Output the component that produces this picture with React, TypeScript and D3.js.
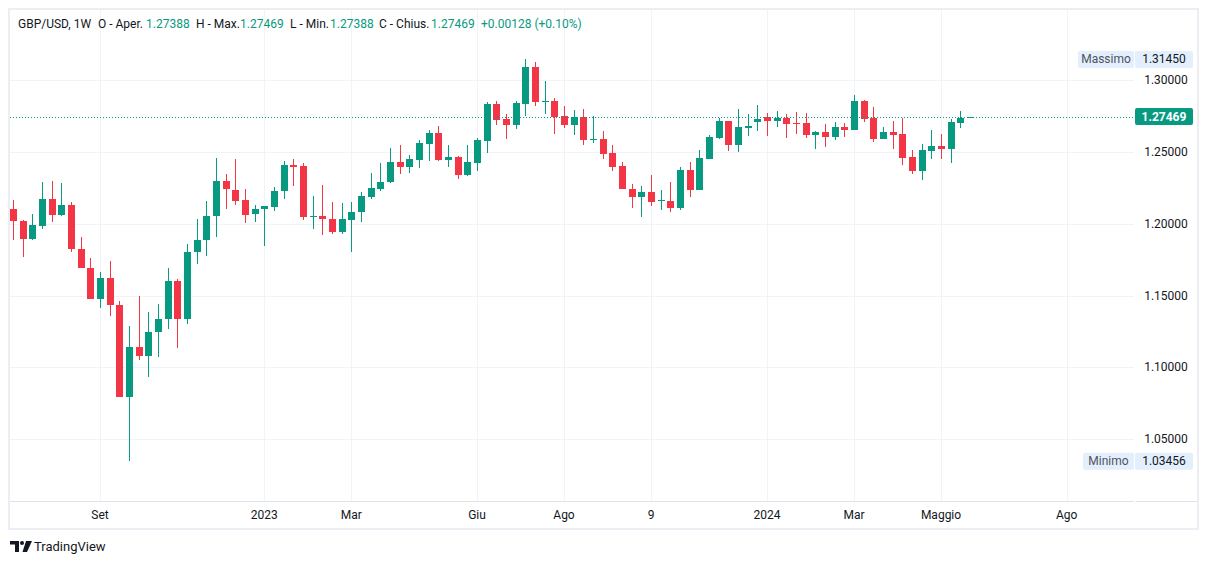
import React from "react";
import * as d3 from "d3";

// ---- Data (weekly GBP/USD candles, first week = 2022-07-04) ----
const firstWeek = "2022-07-04";
const opens = [
  1.2104, 1.2021, 1.1891, 1.1988, 1.2174, 1.2058, 1.2132, 1.1826, 1.1694,
  1.1473, 1.1624, 1.1436, 1.0791, 1.1144, 1.1077, 1.1244, 1.1334, 1.1603, 1.1334,
  1.18, 1.1884, 1.2051, 1.2299, 1.2237, 1.2167, 1.2065, 1.21, 1.212, 1.2225,
  1.2411, 1.2403, 1.2044, 1.2054, 1.2033, 1.1944, 1.2028, 1.2079, 1.219, 1.2244,
  1.2288, 1.2432, 1.2399, 1.2447, 1.2559, 1.2633, 1.2447, 1.2466, 1.2343, 1.2427,
  1.258, 1.2835, 1.2731, 1.2691, 1.2837, 1.3093, 1.2851, 1.2856, 1.2752, 1.2691,
  1.2745, 1.2587, 1.2594, 1.2494, 1.2404, 1.2244, 1.219, 1.2223, 1.216, 1.2162,
  1.2113, 1.2376, 1.2232, 1.2454, 1.2598, 1.2717, 1.2552, 1.2668, 1.271, 1.2745,
  1.2717, 1.2738, 1.2703, 1.2703, 1.2622, 1.2642, 1.2608, 1.2675, 1.2656, 1.2856,
  1.2738, 1.2594, 1.264, 1.2626, 1.2466, 1.2371, 1.251, 1.2543, 1.2524, 1.2705,
  1.27388,
];
const highs = [
  1.2167, 1.2028, 1.207, 1.2292, 1.2299, 1.2285, 1.2153, 1.191, 1.1763,
  1.1666, 1.1743, 1.1464, 1.129, 1.1499, 1.1387, 1.1443, 1.1694, 1.1617, 1.1861,
  1.2035, 1.216, 1.2459, 1.2348, 1.2452, 1.2244, 1.2132, 1.2125, 1.2258, 1.2441,
  1.2452, 1.2424, 1.2195, 1.2271, 1.2153, 1.2146, 1.2153, 1.2223, 1.2355, 1.2424,
  1.2529, 1.255, 1.248, 1.2585, 1.2654, 1.2682, 1.255, 1.2473, 1.255, 1.2598,
  1.2849, 1.2856, 1.2766, 1.2856, 1.3145, 1.3127, 1.2995, 1.2877, 1.2821, 1.2793,
  1.28, 1.2752, 1.2647, 1.255, 1.2432, 1.2278, 1.2264, 1.2341, 1.2232, 1.2292,
  1.2397, 1.2432, 1.2515, 1.2619, 1.2738, 1.2717, 1.28, 1.2766, 1.2828, 1.2773,
  1.2787, 1.2766, 1.278, 1.2773, 1.2649, 1.2698, 1.2712, 1.2705, 1.2898, 1.2863,
  1.2814, 1.2675, 1.2717, 1.2738, 1.2515, 1.2557, 1.2654, 1.2626, 1.2731, 1.2787,
  1.27469,
];
const lows = [
  1.1884, 1.1765, 1.1884, 1.1965, 1.2009, 1.2051, 1.18, 1.1689, 1.1473,
  1.141, 1.1355, 1.0791, 1.03456, 1.1049, 1.093, 1.1069, 1.1264, 1.1132, 1.1299,
  1.1717, 1.1777, 1.1905, 1.21, 1.213, 1.2002, 1.2009, 1.1847, 1.2092, 1.2176,
  1.2266, 1.2028, 1.1967, 1.1919, 1.193, 1.1932, 1.1805, 1.2014, 1.2176, 1.223,
  1.2281, 1.2348, 1.2357, 1.2392, 1.244, 1.244, 1.2399, 1.2315, 1.2336, 1.2371,
  1.2496, 1.2691, 1.2594, 1.2663, 1.2754, 1.2823, 1.2768, 1.2629, 1.267, 1.2622,
  1.2552, 1.2566, 1.2452, 1.2371, 1.2239, 1.2113, 1.2044, 1.2127, 1.2099, 1.2079,
  1.2099, 1.219, 1.2232, 1.2454, 1.2592, 1.2507, 1.2503, 1.2612, 1.2647, 1.2612,
  1.2675, 1.2598, 1.2626, 1.2598, 1.2524, 1.2538, 1.2587, 1.2608, 1.2656, 1.2712,
  1.2573, 1.2594, 1.2524, 1.2413, 1.235, 1.2308, 1.2454, 1.2454, 1.2427, 1.267,
  1.27388,
];
const closes = [
  1.2016, 1.1891, 1.1993, 1.2174, 1.2058, 1.2132, 1.1821, 1.1689, 1.1473,
  1.1624, 1.1431, 1.0791, 1.1144, 1.1077, 1.1248, 1.1339, 1.1603, 1.1334, 1.1805,
  1.1888, 1.2056, 1.2299, 1.2239, 1.2162, 1.2058, 1.2104, 1.2125, 1.223, 1.2411,
  1.2399, 1.2044, 1.2054, 1.203, 1.1944, 1.2033, 1.2084, 1.2195, 1.2251, 1.2292,
  1.2432, 1.2399, 1.2453, 1.2564, 1.2633, 1.2447, 1.2466, 1.2343, 1.2432, 1.2585,
  1.2835, 1.2726, 1.2691, 1.2842, 1.3093, 1.2851, 1.2856, 1.2747, 1.2691, 1.2745,
  1.2587, 1.2594, 1.2489, 1.2399, 1.2239, 1.219, 1.2223, 1.2155, 1.2169, 1.2113,
  1.2376, 1.2232, 1.2459, 1.2606, 1.2717, 1.2552, 1.2675, 1.2682, 1.2731, 1.2717,
  1.2738, 1.2696, 1.2696, 1.2619, 1.2642, 1.2608, 1.2675, 1.2656, 1.2856, 1.2733,
  1.2594, 1.264, 1.2622, 1.2461, 1.2371, 1.2515, 1.2543, 1.2524, 1.271, 1.2738,
  1.27469,
];

const priceTicks = [1.3, 1.25, 1.2, 1.15, 1.1, 1.05];
const timeTickDates = [
  "2022-09-05", "2023-01-02", "2023-03-06", "2023-06-05", "2023-08-07",
  "2023-10-09", "2024-01-01", "2024-03-04", "2024-05-06", "2024-08-05",
];
const timeTickLabels = ["Set", "2023", "Mar", "Giu", "Ago", "9", "2024", "Mar", "Maggio", "Ago"];

const maxPrice = 1.3145;
const minPrice = 1.03456;
const lastPrice = 1.27469;

const headerParts = [
  { t: "GBP/USD, 1W", c: "#131722", x: 18 },
  { t: "O - Aper.", c: "#131722", x: 98 },
  { t: "1.27388", c: "#089981", x: 146 },
  { t: "H - Max.", c: "#131722", x: 196 },
  { t: "1.27469", c: "#089981", x: 240 },
  { t: "L - Min.", c: "#131722", x: 290 },
  { t: "1.27388", c: "#089981", x: 330 },
  { t: "C - Chius.", c: "#131722", x: 379 },
  { t: "1.27469", c: "#089981", x: 431 },
  { t: "+0.00128 (+0.10%)", c: "#089981", x: 481 },
];

const UP = "#089981";
const DOWN = "#F23645";
const GRID = "#f0f3fa";
const TEXT = "#131722";
const FONT = "Roboto, 'Noto Sans', sans-serif";

export default function App() {
  const W = 1209;
  const H = 564;
  const plotL = 10;
  const plotR = 1134;
  const plotT = 10;
  const plotB = 501;

  const parse = d3.utcParse("%Y-%m-%d");
  const start = parse(firstWeek) as Date;
  const dates = opens.map((_, i) => d3.utcDay.offset(start, i * 7));

  const x = d3
    .scaleUtc()
    .domain([parse("2022-09-05") as Date, parse("2024-08-05") as Date])
    .range([100, 1066.7]);
  const y = d3.scaleLinear().domain([1.05, 1.3]).range([439, 80.3]);

  const bodyW = 7;
  const yLast = y(lastPrice);

  return (
    <svg
      width={W}
      height={H}
      style={{ position: "absolute", left: 0, top: 0, background: "#fff" }}
      fontFamily={FONT}
    >
      <defs>
        <clipPath id="plotClip">
          <rect x={plotL} y={plotT} width={plotR - plotL} height={plotB - plotT} />
        </clipPath>
      </defs>
      <rect x={0} y={0} width={W} height={H} fill="#fff" />

      {/* grid */}
      {priceTicks.map((p) => (
        <line key={"h" + p} x1={plotL} x2={plotR} y1={Math.round(y(p)) + 0.5} y2={Math.round(y(p)) + 0.5} stroke={GRID} />
      ))}
      {timeTickDates.map((d) => {
        const xx = Math.round(x(parse(d) as Date)) + 0.5;
        return <line key={"v" + d} x1={xx} x2={xx} y1={plotT} y2={plotB} stroke={GRID} />;
      })}

      {/* candles */}
      <g clipPath="url(#plotClip)">
        {dates.map((d, i) => {
          const o = opens[i], h = highs[i], l = lows[i], c = closes[i];
          const col = c >= o ? UP : DOWN;
          const cx = Math.round(x(d));
          const top = Math.round(y(Math.max(o, c)));
          const bot = Math.round(y(Math.min(o, c)));
          return (
            <g key={i}>
              <rect x={cx} y={Math.round(y(h))} width={1} height={Math.max(1, Math.round(y(l)) - Math.round(y(h)))} fill={col} />
              <rect x={cx - 3} y={top} width={bodyW} height={Math.max(1, bot - top)} fill={col} />
            </g>
          );
        })}
      </g>

      {/* last price dotted line */}
      <line x1={plotL} x2={plotR} y1={Math.round(yLast) + 0.5} y2={Math.round(yLast) + 0.5} stroke={UP} strokeDasharray="1 2" strokeWidth={1} />

      {/* price axis labels */}
      {priceTicks.map((p) => (
        <text key={"pl" + p} x={1166} y={y(p) + 4} fontSize={12} fill={TEXT} textAnchor="middle">
          {p.toFixed(5)}
        </text>
      ))}

      {/* max label */}
      <g>
        <rect x={1078} y={y(maxPrice) - 8.5} width={56} height={17} fill="#e3effd" rx={2} />
        <text x={1106} y={y(maxPrice) + 4} fontSize={12} fill="#50535e" textAnchor="middle">Massimo</text>
        <rect x={1135} y={y(maxPrice) - 8.5} width={58} height={17} fill="#e3effd" rx={2} />
        <text x={1164} y={y(maxPrice) + 4} fontSize={12} fill={TEXT} textAnchor="middle">{maxPrice.toFixed(5)}</text>
      </g>
      {/* min label */}
      <g>
        <rect x={1083} y={y(minPrice) - 8.5} width={51} height={17} fill="#e3effd" rx={2} />
        <text x={1108.5} y={y(minPrice) + 4} fontSize={12} fill="#50535e" textAnchor="middle">Minimo</text>
        <rect x={1135} y={y(minPrice) - 8.5} width={58} height={17} fill="#e3effd" rx={2} />
        <text x={1164} y={y(minPrice) + 4} fontSize={12} fill={TEXT} textAnchor="middle">{minPrice.toFixed(5)}</text>
      </g>
      {/* last price label */}
      <g>
        <rect x={1135} y={yLast - 8.5} width={58} height={17} fill={UP} rx={2} />
        <text x={1164} y={yLast + 4} fontSize={12} fontWeight={700} fill="#fff" textAnchor="middle">{lastPrice.toFixed(5)}</text>
      </g>

      {/* time axis */}
      <line x1={plotL} x2={plotR} y1={plotB + 0.5} y2={plotB + 0.5} stroke="#e0e3eb" />
      <line x1={plotR + 2} x2={1198} y1={plotB + 0.5} y2={plotB + 0.5} stroke="#e0e3eb" />
      {timeTickDates.map((d, i) => (
        <text key={"tl" + d} x={x(parse(d) as Date)} y={519} fontSize={12} fill={TEXT} textAnchor="middle">
          {timeTickLabels[i]}
        </text>
      ))}

      {/* frame */}
      <rect x={9} y={9} width={1189} height={520} fill="none" stroke="#eceef3" strokeWidth={2} />

      {/* header */}
      {headerParts.map((p, i) => (
        <text key={"hd" + i} x={p.x} y={28} fontSize={12} fill={p.c}>
          {p.t}
        </text>
      ))}

      {/* TradingView logo */}
      <g fill={TEXT}>
        <path d="M10 541 H19 V552 H15 V544.5 H10 Z" />
        <circle cx={22} cy={543} r={2} />
        <path d="M26 541 H32 L27 552 H22.5 Z" />
        <text x={34} y={551} fontSize={13} fill={TEXT}>TradingView</text>
      </g>
    </svg>
  );
}
